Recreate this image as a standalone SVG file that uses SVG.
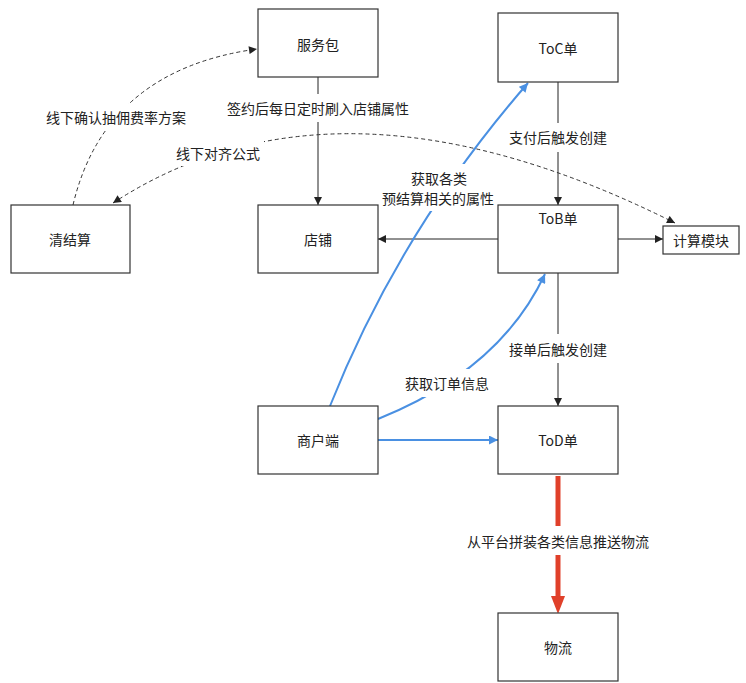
<svg xmlns="http://www.w3.org/2000/svg" width="746" height="683" viewBox="0 0 746 683">
<defs>
<style>
.box{fill:#fff;stroke:#333;stroke-width:1.2}
.t{font-family:"Noto Sans CJK SC","Liberation Sans",sans-serif;font-size:14px;fill:#222;text-anchor:middle;dominant-baseline:central}
.ln{fill:none;stroke:#222;stroke-width:1}
.dash{fill:none;stroke:#333;stroke-width:1;stroke-dasharray:4 3}
.blue{fill:none;stroke:#4a90e2;stroke-width:2}
.red{fill:none;stroke:#e0402a;stroke-width:5}
.bg{fill:#fff}
</style>
<marker id="ab" viewBox="0 0 10 10" refX="10" refY="5" markerWidth="9" markerHeight="8" markerUnits="userSpaceOnUse" orient="auto-start-reverse"><path d="M0,0 L10,5 L0,10 z" fill="#222"/></marker>
<marker id="au" viewBox="0 0 10 10" refX="10" refY="5" markerWidth="10" markerHeight="9" markerUnits="userSpaceOnUse" orient="auto"><path d="M0,0 L10,5 L0,10 z" fill="#4a90e2"/></marker>
<marker id="ar" viewBox="0 0 10 10" refX="10" refY="5" markerWidth="18" markerHeight="15" markerUnits="userSpaceOnUse" orient="auto"><path d="M0,0 L10,5 L0,10 z" fill="#e0402a"/></marker>
</defs>
<rect width="746" height="683" fill="#fff"/>
<g id="connectors">
<path class="ln" d="M318,77 L318,205" marker-end="url(#ab)"/>
<path class="ln" d="M558,82 L558,205" marker-end="url(#ab)"/>
<path class="ln" d="M498,239 L378,239" marker-end="url(#ab)"/>
<path class="ln" d="M618,239 L663,239" marker-end="url(#ab)"/>
<path class="ln" d="M558,273 L558,406" marker-end="url(#ab)"/>
<path class="red" d="M558,476 L558,596"/>
<path d="M551,596 L565,596 L558,614 z" fill="#e0402a"/>
<path class="blue" d="M378,440 L498,440" marker-end="url(#au)"/>
<path class="blue" d="M378,419 Q500,370 545,274" marker-end="url(#au)"/>
<path class="blue" d="M330,406 Q400,230 528,83" marker-end="url(#au)"/>
<path class="dash" d="M73,205 Q105,70 257,49" marker-end="url(#ab)"/>
<path class="dash" d="M113,203 Q340,55 675,223" marker-start="url(#ab)" marker-end="url(#ab)"/>
<rect class="bg" x="226" y="94" width="184" height="28"/>
<text class="t" x="318" y="108">签约后每日定时刷入店铺属性</text>
<rect class="bg" x="507" y="123" width="102" height="29"/>
<text class="t" x="558" y="137">支付后触发创建</text>
<rect class="bg" x="507" y="334" width="102" height="29"/>
<text class="t" x="558" y="349">接单后触发创建</text>
<rect class="bg" x="464" y="526" width="188" height="29"/>
<text class="t" x="558" y="541">从平台拼装各类信息推送物流</text>
<rect class="bg" x="380" y="164" width="118" height="47"/>
<text class="t" x="439" y="178">获取各类</text>
<text class="t" x="438" y="198">预结算相关的属性</text>
<rect class="bg" x="402" y="369" width="90" height="28"/>
<text class="t" x="447" y="383">获取订单信息</text>
<rect class="bg" x="44" y="104" width="144" height="26"/>
<text class="t" x="116" y="117">线下确认抽佣费率方案</text>
<rect class="bg" x="174" y="139" width="90" height="27"/>
<text class="t" x="218" y="153">线下对齐公式</text>
</g>
<g id="fuwubao"><rect class="box" x="258" y="9" width="120" height="68"/><text class="t" x="318" y="44">服务包</text></g>
<g id="toc"><rect class="box" x="498" y="13" width="120" height="69"/><text class="t" x="558" y="48">ToC单</text></g>
<g id="qingjiesuan"><rect class="box" x="11" y="205" width="119" height="68"/><text class="t" x="70" y="239">清结算</text></g>
<g id="dianpu"><rect class="box" x="258" y="205" width="120" height="68"/><text class="t" x="318" y="239">店铺</text></g>
<g id="tob"><rect class="box" x="498" y="205" width="120" height="68"/><text class="t" x="558" y="218">ToB单</text></g>
<g id="jisuan"><rect class="box" x="663" y="226" width="76" height="28"/><text class="t" x="701" y="240">计算模块</text></g>
<g id="shanghu"><rect class="box" x="258" y="406" width="120" height="68"/><text class="t" x="318" y="440">商户端</text></g>
<g id="tod"><rect class="box" x="498" y="406" width="120" height="68"/><text class="t" x="558" y="440">ToD单</text></g>
<g id="wuliu"><rect class="box" x="498" y="613" width="120" height="68"/><text class="t" x="558" y="647">物流</text></g>
</svg>
